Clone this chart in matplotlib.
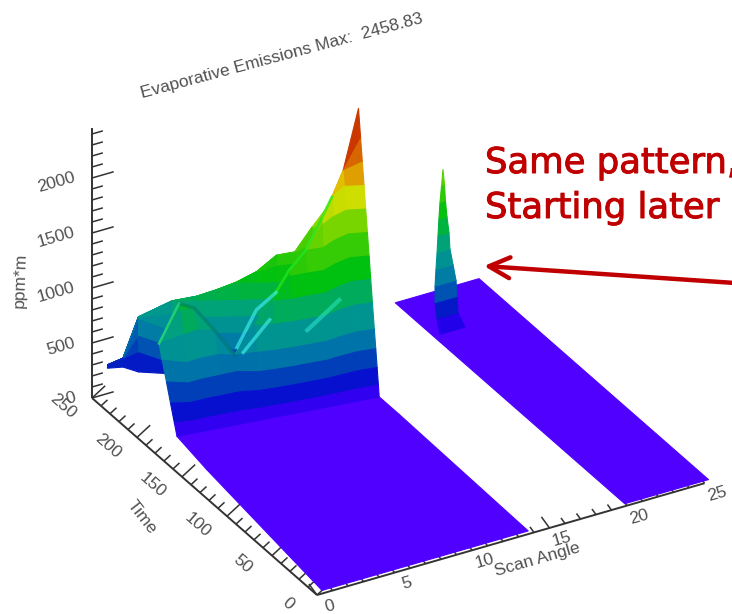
import numpy as np
import matplotlib
matplotlib.use('Agg')
import matplotlib.pyplot as plt
import matplotlib.patheffects as pe
from matplotlib.colors import LinearSegmentedColormap, Normalize

W, H = 732, 614

# left band, front wall: for each scan angle, the time at which each value level is reached
wall_x = [2, 3, 4, 5, 6, 7, 8, 9, 10, 11, 12, 13, 14]
wall_levels = [0, 100, 250, 410, 575, 800, 1000, 1200, 1400, 1600, 1800, 2000, 2200, 2458]
wall_crest = [700, 1060, 975, 770, 540, 800, 1040, 1255, 1400, 1665, 1770, 1930, 2458]
wall_t = [
    [190, 188.5, 187, 185.5, 184, 182.5, 181, 179.5, 178, 176.5, 175, 173.5, 172],
    [192.9, 190, 188.9, 187.4, 186, 183.4, 181.7, 180, 178.5, 177, 175.9, 174.6, 172.9],
    [197.2, 192.4, 191.6, 190.3, 189, 184.9, 182.7, 180.8, 179.3, 177.6, 177.1, 176.3, 174.3],
    [201.7, 194.9, 194.6, 193.3, 192.2, 186.4, 183.7, 181.6, 180.1, 178.3, 178.5, 178, 175.8],
    [206.4, 197.5, 197.6, 196.4, 195, 187.9, 184.9, 182.5, 180.9, 179.1, 179.9, 179.9, 177.4],
    [210, 201, 201.8, 200, 195, 190, 186.4, 183.7, 182, 180.1, 181.8, 182.4, 179.5],
    [210, 204.1, 205, 200, 195, 190, 187.7, 184.7, 183, 181, 183.5, 184.6, 181.4],
    [210, 205, 205, 200, 195, 190, 188, 185.7, 184, 181.9, 185.2, 186.8, 183.2],
    [210, 205, 205, 200, 195, 190, 188, 186, 185, 182.8, 186.9, 189, 185.1],
    [210, 205, 205, 200, 195, 190, 188, 186, 185, 183.7, 188.6, 191.3, 187],
    [210, 205, 205, 200, 195, 190, 188, 186, 185, 184, 190, 193.5, 188.8],
    [210, 205, 205, 200, 195, 190, 188, 186, 185, 184, 190, 195, 190.7],
    [210, 205, 205, 200, 195, 190, 188, 186, 185, 184, 190, 195, 192.6],
    [210, 205, 205, 200, 195, 190, 188, 186, 185, 184, 190, 195, 195],
]

# left band, back of the plume seen above the front wall
back_x = [1, 2, 3, 4, 5, 6, 7, 8, 9, 10, 11, 12]
back_t = [250, 250, 250, 230, 220, 215, 210, 205, 200, 197, 195, 192]
back_crest = [260, 280, 615, 863, 936, 990, 1055, 1145, 1290, 1300, 1500, 1727]
back_base = [230, 200, 115, 200, 200, 200, 200, 200, 200, 200, 200, 200]
back_levels = [300, 450, 600, 750, 900, 1050, 1200, 1350, 1500, 1700]

# left band, flat part in front of the wall
floor_t = [3, 150]
floor_edge = [0.5, 1.6, 2.0]
floor_right = [13.8, 14, 14]

# right band
band2_x = [20, 25.4]
band2_t = [3, 258]

# spike on the right band: value levels and the scan angles of both flanks
spike_t = 215
spike_levels = [0, 150, 300, 450, 600, 750, 900, 1050, 1200, 1350, 1490]
spike_left = [20.42, 20.23, 20.1, 20.1, 20.16, 20.23, 20.29, 20.35, 20.42, 20.52, 20.61]
spike_right = [22.03, 21.58, 21.52, 21.45, 21.26, 21.06, 21.0, 20.87, 20.77, 20.71, 20.61]

# bright streaks on the wall: scan angle, time, value
ridge_x = [8.2, 9, 10, 11, 12]
ridge_t = [187, 186, 185, 184, 190]
ridge_z = [1075, 1255, 1400, 1665, 1770]
loop_a_x = [5.7, 7.0, 8.2]
loop_a_t = [187, 188, 187]
loop_a_z = [680, 960, 1075]
loop_b_x = [6.1, 7.8]
loop_b_t = [187, 187]
loop_b_z = [618, 845]
streak_x = [10, 12]
streak_t = [183, 182]
streak_z = [690, 890]
arc_x = [2, 3]
arc_t = [210, 205]
arc_z = [700, 1060]
# darker flank of the mound down into the valley
flank_x = [3, 4, 5, 6]
flank_t = [205, 205, 200, 195]
flank_z = [1060, 975, 770, 540]

x_ticks = [0, 5, 10, 15, 20, 25]
t_ticks = [0, 50, 100, 150, 200, 250]
z_ticks = [0, 500, 1000, 1500, 2000]
z_top = 2458

# colours against value
levels = [0, 100, 250, 410, 575, 800, 1100, 1400, 1750, 1950, 2150, 2458]
level_colors = ['#5000ff', '#1000e0', '#0020c0', '#0060b0', '#0088a0', '#00a080',
                '#00c010', '#50d000', '#e0e000', '#e08000', '#c83000', '#b01000']
norm = Normalize(0, z_top)
cmap = LinearSegmentedColormap.from_list(
    'idl', [(v / z_top, c) for v, c in zip(levels, level_colors)], N=512)

fig = plt.figure(figsize=(W / 100, H / 100), dpi=100)
# 3d axes keep a square box, so make it as wide as the figure
ax = fig.add_axes([0, -(W - H) / 2 / H, 1, W / H], projection='3d', computed_zorder=False)
ax.set_proj_type('ortho')
ax.set_axis_off()
ax.apply_aspect()

# fixed oblique view taken from the reference axes, in pixels per data unit
origin = (317.0, 595.0)
ex = (15.5, -4.47)
et = (-0.9, -0.788)
ez = (0.0, -0.11)
inv = ax.transData.inverted()
p0 = inv.transform((0, 0))
p1 = inv.transform((1, 1))
a, b = p1 - p0
M = np.array([
    [a * ex[0], a * et[0], a * ez[0], p0[0] + a * origin[0]],
    [-b * ex[1], -b * et[1], -b * ez[1], p0[1] + b * (H - origin[1])],
    [1 / 25, 1 / 250, -1e-5, 0],
    [0, 0, 0, 1],
])
ax.get_proj = lambda: M


def surface(X, T, Z, zorder):
    s = ax.plot_surface(np.array(X, dtype=float), np.array(T, dtype=float), np.array(Z, dtype=float),
                        cmap=cmap, norm=norm, rstride=1, cstride=1, shade=False,
                        linewidth=0.8, antialiased=True, zorder=zorder)
    s.set_edgecolor('face')


# right band and spike
bx, bt = np.meshgrid(band2_x, band2_t)
surface(bx, bt, np.zeros_like(bx), 1.5)
surface(np.column_stack([spike_left, spike_right]),
        np.full((len(spike_levels), 2), spike_t),
        np.column_stack([spike_levels, spike_levels]), 1.6)

# left band
foot = wall_t[0]
fx = np.array([[e] + wall_x[1:-1] + [r] for e, r in zip(floor_edge, floor_right)])
ft = np.array([[t] * len(wall_x) for t in floor_t] + [foot])
surface(fx, ft, np.zeros_like(fx), 1.5)

back_z = [back_base] + [np.maximum(np.minimum(lv, back_crest), back_base) for lv in back_levels]
surface(np.tile(back_x, (len(back_z), 1)), np.tile(back_t, (len(back_z), 1)), back_z, 1.7)

wall_z = [np.minimum(lv, wall_crest) for lv in wall_levels]
surface(np.tile(wall_x, (len(wall_levels), 1)), wall_t, wall_z, 2)

# streaks
ax.plot(flank_x, flank_t, flank_z, color='#006a70', lw=2.5, alpha=0.45, zorder=3)
ax.plot(ridge_x, ridge_t, ridge_z, color='#20e820', lw=2, alpha=0.7, zorder=3)
ax.plot(loop_a_x, loop_a_t, loop_a_z, color='#40f0f0', lw=2.5, alpha=0.65, zorder=3)
ax.plot(loop_b_x, loop_b_t, loop_b_z, color='#40f0f0', lw=2.5, alpha=0.65, zorder=3)
ax.plot(streak_x, streak_t, streak_z, color='#30f0d0', lw=3, alpha=0.5, zorder=3)
ax.plot(arc_x, arc_t, arc_z, color='#30e080', lw=1.8, alpha=0.7, zorder=3)

axis_col = '#333333'
tick_lw = 1.1


def seg(xs, ts, zs, lw=tick_lw):
    ax.plot(xs, ts, zs, color=axis_col, lw=lw, zorder=1, solid_capstyle='butt')


# axis lines
seg([0, 25], [0, 0], [0, 0], 1.4)
seg([0, 0], [0, 250], [0, 0], 1.4)
seg([0, 0], [250, 250], [0, z_top], 1.4)

# ticks
for v in np.arange(0, 26, 1):
    d = 9 if v % 5 == 0 else 4.5
    seg([v, v], [0, d], [0, 4 * d])
for v in np.arange(0, 251, 10):
    d = 0.85 if v % 50 == 0 else 0.42
    seg([0, d], [v, v], [0, 90 * d])
for v in np.arange(0, z_top, 100):
    d = 1.4 if v % 500 == 0 else 0.7
    seg([0, d], [250, 250], [v, v])

text_col = '#505050'
font = 'Liberation Sans'
size = 12.5
# zdir gives the text its slant in 3d axes
for v in x_ticks:
    ax.text(v, -14, 0, str(v), zdir='x', color=text_col, fontsize=size, family=font,
            ha='center', va='center', rotation_mode='anchor')
for v in t_ticks:
    ax.text(-1.9, v, 0, str(v), zdir=(0, -1, 0), color=text_col, fontsize=size, family=font,
            ha='center', va='center', rotation_mode='anchor')
for v in z_ticks:
    ax.text(-1.1, 250, v + 50, str(v), zdir='x', color=text_col, fontsize=size, family=font,
            ha='right', va='center', rotation_mode='anchor')

# flat overlay in pixels for titles and the annotation
ov = fig.add_axes([0, 0, 1, 1])
ov.set_xlim(0, W)
ov.set_ylim(H, 0)
ov.axis('off')
ov.patch.set_alpha(0)
ov.text(282, 56, 'Evaporative Emissions Max:  2458.83', color=text_col, fontsize=size, family=font,
        rotation=15, ha='center', va='center', rotation_mode='anchor')
ov.text(20, 280, 'ppm*m', color=text_col, fontsize=size, family=font, rotation=88, ha='center', va='center')
ov.text(142, 517, 'Time', color=text_col, fontsize=size, family=font, rotation=-52, ha='center', va='center')
ov.text(537, 560, 'Scan Angle', color=text_col, fontsize=size, family=font, rotation=16, ha='center', va='center')

red = '#c00000'
stroke = [pe.withStroke(linewidth=0.7, foreground=red)]
ov.text(485, 163, 'Same pattern,', color=red, fontsize=25.5, family='DejaVu Sans', ha='left', va='center',
        path_effects=stroke)
ov.text(485, 208, 'Starting later', color=red, fontsize=25.5, family='DejaVu Sans', ha='left', va='center',
        path_effects=stroke)
ov.annotate('', xy=(484, 266), xytext=(735, 283),
            arrowprops=dict(arrowstyle='->,head_length=1.5,head_width=0.75', color=red, lw=3.2,
                            shrinkA=0, shrinkB=0))

fig.savefig('out.png', dpi=100)
